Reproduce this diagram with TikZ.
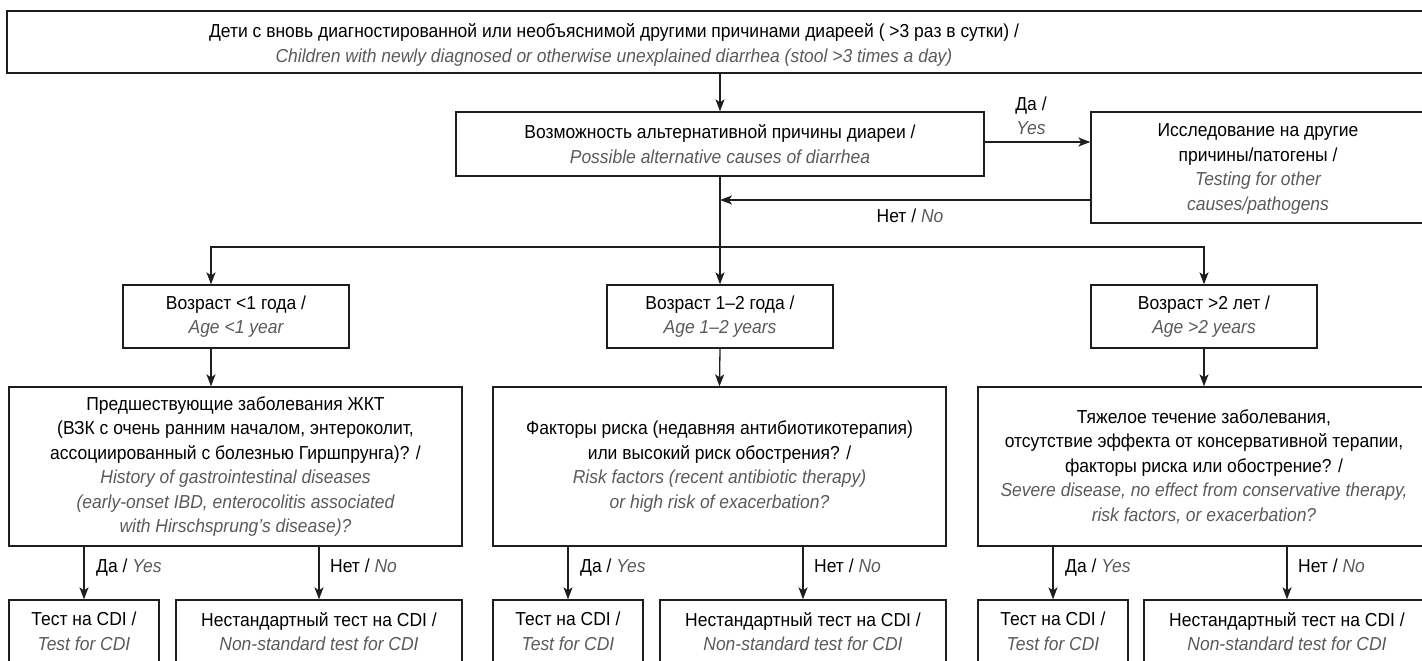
\documentclass[tikz,border=0pt]{standalone}
\usepackage{fontspec}
\setmainfont{Liberation Sans}[FakeStretch=0.93]
\usetikzlibrary{arrows.meta,calc}
\definecolor{engray}{HTML}{5A5A5A}
\definecolor{linec}{HTML}{1E1E1E}
\newcommand{\en}[1]{{\itshape\color{engray}#1}}
\tikzset{
  box/.style={draw=linec, line width=1.3pt, rectangle, inner sep=0pt, fill=none},
  txt/.style={align=center, inner sep=0pt, font=\fontsize{18.8}{24.5}\selectfont},
  lbl/.style={inner sep=0pt, font=\fontsize{18.8}{24.5}\selectfont},
  conn/.style={draw=linec, line width=1.3pt},
  arr/.style={conn, -{Stealth[length=12pt,width=9pt,inset=3pt]}},
}
\begin{document}
\begin{tikzpicture}[x=1pt,y=-1pt]
\useasboundingbox (0,0) rectangle (1422,661);
\clip (0,0) rectangle (1422,661);
% boxes
\node[box, minimum width=1433pt, minimum height=62pt] (top) at (723.5,42) {};
\node[txt] (toptxt) at (614,45) {Дети с вновь диагностированной или необъяснимой другими причинами диареей ( >3 раз в сутки) /\\ \en{Children with newly diagnosed or otherwise unexplained diarrhea (stool >3 times a day)}};

\node[box, txt, minimum width=528pt, minimum height=64pt] (alt) at (720,144) {Возможность альтернативной причины диареи /\\ \en{Possible alternative causes of diarrhea}};

\node[box, minimum width=340pt, minimum height=111pt] (test) at (1261,167.5) {};
\node[txt] (testtxt) at (1258,169) {Исследование на другие\\причины/патогены /\\ \en{Testing for other}\\ \en{causes/pathogens}};

\node[box, txt, minimum width=226pt, minimum height=63pt] (age1) at (236,316.5) {Возраст <1 года /\\ \en{Age <1 year}};
\node[box, txt, minimum width=226pt, minimum height=63pt] (age2) at (720,316.5) {Возраст 1–2 года /\\ \en{Age 1–2 years}};
\node[box, txt, minimum width=226pt, minimum height=63pt] (age3) at (1204,316.5) {Возраст >2 лет /\\ \en{Age >2 years}};

\node[box, txt, minimum width=453pt, minimum height=159pt] (big1) at (235.5,466.5) {Предшествующие заболевания ЖКТ\\(ВЗК с очень ранним началом, энтероколит,\\ассоциированный с болезнью Гиршпрунга)? /\\ \en{History of gastrointestinal diseases}\\ \en{(early-onset IBD, enterocolitis associated}\\ \en{with Hirschsprung\char"0027 s disease)?}};
\node[box, txt, minimum width=453pt, minimum height=159pt] (big2) at (719.5,466.5) {Факторы риска (недавняя антибиотикотерапия)\\или высокий риск обострения? /\\ \en{Risk factors (recent antibiotic therapy)}\\ \en{or high risk of exacerbation?}};
\node[box, txt, minimum width=452pt, minimum height=159pt] (big3) at (1204,466.5) {Тяжелое течение заболевания,\\отсутствие эффекта от консервативной терапии,\\факторы риска или обострение? /\\ \en{Severe disease, no effect from conservative therapy,}\\ \en{risk factors, or exacerbation?}};

\node[box, txt, minimum width=150pt, minimum height=63pt] (y1) at (84,631.5) {Тест на CDI /\\ \en{Test for CDI}};
\node[box, txt, minimum width=286pt, minimum height=63pt] (n1) at (319,631.5) {Нестандартный тест на CDI /\\ \en{Non-standard test for CDI}};
\node[box, txt, minimum width=150pt, minimum height=63pt] (y2) at (568,631.5) {Тест на CDI /\\ \en{Test for CDI}};
\node[box, txt, minimum width=286pt, minimum height=63pt] (n2) at (803,631.5) {Нестандартный тест на CDI /\\ \en{Non-standard test for CDI}};
\node[box, txt, minimum width=150pt, minimum height=63pt] (y3) at (1053,631.5) {Тест на CDI /\\ \en{Test for CDI}};
\node[box, txt, minimum width=286pt, minimum height=63pt] (n3) at (1287,631.5) {Нестандартный тест на CDI /\\ \en{Non-standard test for CDI}};

% connectors
\draw[arr] (alt.north |- top.south) -- (alt.north);
\draw[arr] (alt.east |- 0,142) coordinate (yesstart) -- (test.west |- yesstart);
\node[lbl, align=center] (yeslbl) at (1031,116) {Да /\\ \en{Yes}};
\draw[arr] (test.west |- 0,200) -- (alt.south |- 0,200);
\node[lbl, anchor=base] (nolbl) at (910,222) {Нет / \en{No}};

\coordinate (split) at (720,247);
\coordinate (c1) at (211,247);
\draw[conn] (alt.south) -- (split);
\draw[arr] (split) -- (age2.north);
\draw[arr] (split) -- (c1) -- (c1 |- age1.north);
\draw[arr] (split) -| (age3.north);

\draw[arr] (c1 |- age1.south) -- (c1 |- big1.north);
\draw[arr] (age2.south) -- (big2.north);
\draw[arr] (age3.south) -- (big3.north);

\foreach \i in {1,2,3}{
  \draw[arr] (y\i.north |- big\i.south) -- (y\i.north);
  \draw[arr] (n\i.north |- big\i.south) -- (n\i.north);
  \node[lbl, anchor=base west] (ylbl\i) at ($(y\i.north |- 0,572)+(12,0)$) {Да / \en{Yes}};
  \node[lbl, anchor=base west] (nlbl\i) at ($(n\i.north |- 0,572)+(11,0)$) {Нет / \en{No}};
}
\end{tikzpicture}
\end{document}
